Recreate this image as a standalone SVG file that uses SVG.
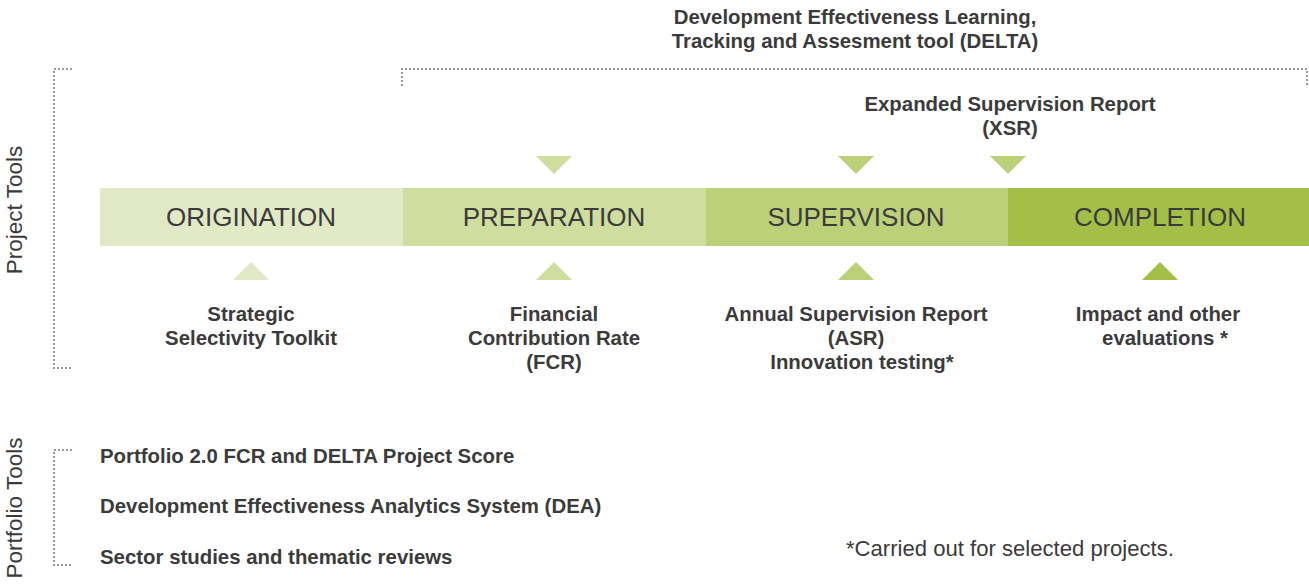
<svg xmlns="http://www.w3.org/2000/svg" width="1309" height="585" viewBox="0 0 1309 585">
<style>
text{font-family:"Liberation Sans",Arial,sans-serif;fill:#3b3b3b}
.ph{font-size:26px;text-anchor:middle}
.b{font-size:20.4px;font-weight:bold;text-anchor:middle}
.pl{font-size:20.4px;font-weight:bold}
.side{font-size:22.5px;text-anchor:middle;font-weight:300}
.dot{fill:none;stroke:#9b9b9b;stroke-width:2;stroke-dasharray:2 2}
.c1{fill:#e1e9c6}.c2{fill:#cfdd9f}.c3{fill:#bccf79}.c4{fill:#a3bf48}
</style>
<g id="brackets">
<path class="dot" d="M72 69H54V368H72"/>
<path class="dot" d="M402 86V69H1307V86"/>
<path class="dot" d="M72 450H54V565H72"/>
</g>
<text class="side" transform="translate(22,210) rotate(-90)">Project Tools</text>
<text class="side" transform="translate(22,508) rotate(-90)">Portfolio Tools</text>
<g id="delta">
<text class="b" x="855" y="24">Development Effectiveness Learning,</text>
<text class="b" x="855" y="48">Tracking and Assesment tool (DELTA)</text>
</g>
<g id="xsr">
<text class="b" x="1010" y="111">Expanded Supervision Report</text>
<text class="b" x="1010" y="135">(XSR)</text>
</g>
<g id="origination">
<rect class="c1" x="100" y="188" width="303" height="58"/>
<text class="ph" x="251" y="226">ORIGINATION</text>
</g>
<g id="preparation">
<rect class="c2" x="403" y="188" width="303" height="58"/>
<text class="ph" x="554" y="226">PREPARATION</text>
</g>
<g id="supervision">
<rect class="c3" x="706" y="188" width="302" height="58"/>
<text class="ph" x="856" y="226">SUPERVISION</text>
</g>
<g id="completion">
<rect class="c4" x="1008" y="188" width="301" height="58"/>
<text class="ph" x="1160" y="226">COMPLETION</text>
</g>
<g id="connectors">
<polygon class="c2" points="536,156 572,156 554,174"/>
<polygon class="c3" points="838,156 874,156 856,174"/>
<polygon class="c3" points="990,156 1026,156 1008,174"/>
<polygon class="c1" points="233,280 269,280 251,262"/>
<polygon class="c2" points="536,280 572,280 554,262"/>
<polygon class="c3" points="838,280 874,280 856,262"/>
<polygon class="c4" points="1142,280 1178,280 1160,262"/>
</g>
<g id="sst">
<text class="b" x="251" y="321">Strategic</text>
<text class="b" x="251" y="345">Selectivity Toolkit</text>
</g>
<g id="fcr">
<text class="b" x="554" y="321">Financial</text>
<text class="b" x="554" y="345">Contribution Rate</text>
<text class="b" x="554" y="369">(FCR)</text>
</g>
<g id="asr">
<text class="b" x="856" y="321">Annual Supervision Report</text>
<text class="b" x="856" y="345">(ASR)</text>
<text class="b" x="862" y="369">Innovation testing*</text>
</g>
<g id="impact">
<text class="b" x="1158" y="321">Impact and other</text>
<text class="b" x="1165" y="345">evaluations *</text>
</g>
<g id="portfolio">
<text class="pl" x="100" y="463">Portfolio 2.0 FCR and DELTA Project Score</text>
<text class="pl" x="100" y="513">Development Effectiveness Analytics System (DEA)</text>
<text class="pl" x="100" y="564">Sector studies and thematic reviews</text>
</g>
<text x="846" y="556" style="font-size:22.1px">*Carried out for selected projects.</text>
</svg>
